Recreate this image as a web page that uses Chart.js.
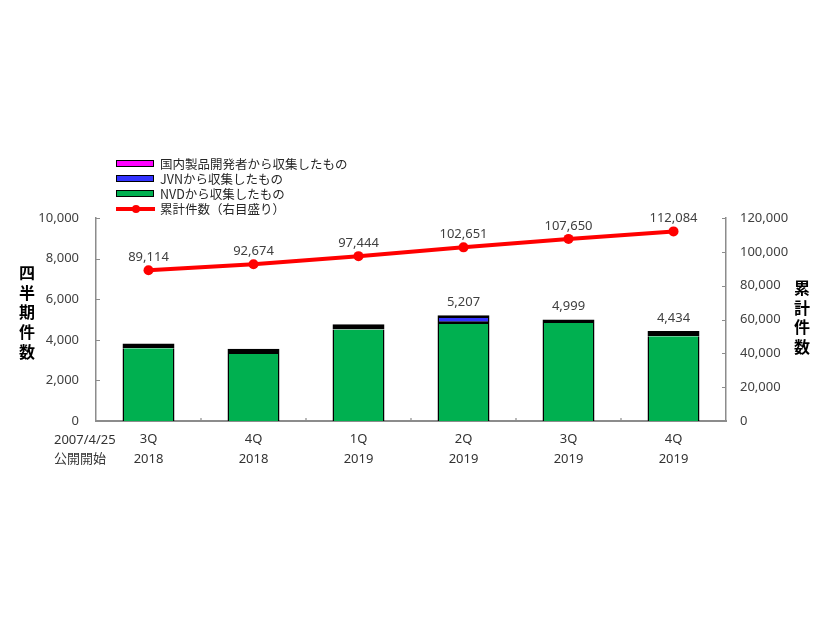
<!DOCTYPE html>
<html>
<head>
<meta charset="utf-8">
<script src="https://cdn.jsdelivr.net/npm/chart.js@4.4.1/dist/chart.umd.min.js"></script>
<style>
  html, body { margin: 0; padding: 0; background: #ffffff; }
  #wrap { position: relative; width: 826px; height: 620px; overflow: hidden; }
  #chart { position: absolute; left: 0; top: 0; }
  .legend { position: absolute; left: 116px; top: 156px; font-family: 'Noto Sans CJK JP', sans-serif; font-size: 12.5px; color: #262626; }
  .legend .row { height: 15px; line-height: 15px; display: flex; align-items: center; white-space: nowrap; }
  .legend .box { width: 36px; height: 5px; border: 1.5px solid #000; margin-right: 6px; box-sizing: content-box; }
  .legend .ln { width: 39px; height: 4px; background: #ff0000; margin-right: 5px; position: relative; }
  .legend .ln::after { content: ''; position: absolute; left: 15.5px; top: -2px; width: 8px; height: 8px; border-radius: 50%; background: #ff0000; }
  .vtitle { position: absolute; font-family: 'Noto Sans CJK JP', sans-serif; font-weight: bold; font-size: 16px; color: #000; width: 20px; text-align: center; line-height: 19.7px; }
  .start { position: absolute; left: 54px; top: 430px; font-family: 'Noto Sans', 'Noto Sans CJK JP', sans-serif; font-size: 13px; color: #333; line-height: 19.4px; white-space: nowrap; }
</style>
</head>
<body>
<div id="wrap">
  <canvas id="chart" width="826" height="620"></canvas>
  <div class="legend">
    <div class="row"><span class="box" style="background:#ff00ff"></span><span id="lg0"></span></div>
    <div class="row"><span class="box" style="background:#3333ff"></span><span id="lg1"></span></div>
    <div class="row"><span class="box" style="background:#00b050"></span><span id="lg2"></span></div>
    <div class="row"><span class="ln"></span><span id="lg3"></span></div>
  </div>
  <div class="vtitle" id="ytitle" style="left:17px; top:263px;"></div>
  <div class="vtitle" id="y1title" style="left:792px; top:278px;"></div>
  <div class="start" id="startLabel"></div>
</div>
<script>
// ---- data ----
const categories = [["3Q","2018"],["4Q","2018"],["1Q","2019"],["2Q","2019"],["3Q","2019"],["4Q","2019"]];
const domestic = [4, 3, 2, 3, 2, 2];
const jvn = [235, 255, 255, 420, 175, 255];
const nvd = [3581, 3302, 4513, 4784, 4822, 4177];
const cumulative = [89114, 92674, 97444, 102651, 107650, 112084];
const showBarTotal = [false, false, false, true, true, true];
const seriesNames = ["国内製品開発者から収集したもの", "JVNから収集したもの", "NVDから収集したもの", "累計件数（右目盛り）"];
const leftTicks = [0, 2000, 4000, 6000, 8000, 10000];
const rightTicks = [0, 20000, 40000, 60000, 80000, 100000, 120000];
const leftTitle = "四半期件数";
const rightTitle = "累計件数";
const startLabel = ["2007/4/25", "公開開始"];

// ---- html text ----
seriesNames.forEach((n, i) => document.getElementById('lg' + i).textContent = n);
document.getElementById('ytitle').innerHTML = leftTitle.split('').map(c => '<div>' + c + '</div>').join('');
document.getElementById('y1title').innerHTML = rightTitle.split('').map(c => '<div>' + c + '</div>').join('');
document.getElementById('startLabel').innerHTML = startLabel.join('<br>');

const fmt = v => Number(v).toLocaleString('en-US');
const FONT = "'Noto Sans', 'Noto Sans CJK JP', sans-serif";
const AXIS_COLOR = '#8c8c8c';

const inwardTicks = {
  id: 'inwardTicks',
  afterDatasetsDraw(chart) {
    const ctx = chart.ctx;
    const area = chart.chartArea;
    const y = chart.scales.y, y1 = chart.scales.y1, x = chart.scales.x;
    ctx.save();
    ctx.strokeStyle = AXIS_COLOR;
    ctx.lineWidth = 1.2;
    ctx.beginPath();
    leftTicks.forEach(v => { const p = Math.round(y.getPixelForValue(v)) + 0.5; ctx.moveTo(area.left, p); ctx.lineTo(area.left + 4, p); });
    rightTicks.forEach(v => { const p = Math.round(y1.getPixelForValue(v)) + 0.5; ctx.moveTo(area.right, p); ctx.lineTo(area.right - 4, p); });
    for (let i = 1; i < categories.length; i++) {
      const p = (x.getPixelForValue(i - 1) + x.getPixelForValue(i)) / 2;
      ctx.moveTo(p, area.bottom); ctx.lineTo(p, area.bottom - 3);
    }
    ctx.stroke();

    // value labels
    ctx.fillStyle = '#404040';
    ctx.font = '13px ' + FONT;
    ctx.textAlign = 'center';
    ctx.textBaseline = 'middle';
    const lineMeta = chart.getDatasetMeta(3);
    lineMeta.data.forEach((pt, i) => {
      ctx.fillText(fmt(cumulative[i]), pt.x, pt.y - 13);
    });
    const topMeta = chart.getDatasetMeta(0);
    topMeta.data.forEach((bar, i) => {
      if (!showBarTotal[i]) return;
      const total = domestic[i] + jvn[i] + nvd[i];
      ctx.fillText(fmt(total), bar.x, y.getPixelForValue(total) - 13);
    });
    ctx.restore();
  }
};

new Chart(document.getElementById('chart'), {
  data: {
    labels: categories,
    datasets: [
      { type: 'bar', label: seriesNames[0], data: domestic, backgroundColor: '#ff00ff', borderColor: '#000', borderWidth: { top: 2, left: 1.5, right: 1.5, bottom: 0 }, borderSkipped: false, stack: 's', order: 3, yAxisID: 'y' },
      { type: 'bar', label: seriesNames[1], data: jvn, backgroundColor: '#3333ff', borderColor: '#000', borderWidth: { top: 2.6, left: 1.5, right: 1.5, bottom: 2.6 }, borderSkipped: false, stack: 's', order: 2, yAxisID: 'y' },
      { type: 'bar', label: seriesNames[2], data: nvd, backgroundColor: '#00b050', borderColor: '#000', borderWidth: { top: 0, left: 1.5, right: 1.5, bottom: 0 }, borderSkipped: false, stack: 's', order: 1, yAxisID: 'y' },
      { type: 'line', label: seriesNames[3], data: cumulative, borderColor: '#ff0000', backgroundColor: '#ff0000', borderWidth: 4, pointRadius: 5, pointBackgroundColor: '#ff0000', pointBorderWidth: 0, tension: 0, order: 0, yAxisID: 'y1' }
    ]
  },
  options: {
    responsive: false,
    animation: false,
    events: [],
    layout: { padding: { left: 0, right: 0, top: 218, bottom: 139 } },
    plugins: { legend: { display: false }, tooltip: { enabled: false } },
    datasets: { bar: { barPercentage: 0.495, categoryPercentage: 1.0 } },
    scales: {
      x: {
        stacked: true,
        offset: true,
        grid: { display: false, drawTicks: false },
        border: { display: true, color: AXIS_COLOR, width: 2 },
        ticks: { color: '#333', font: { family: FONT, size: 13, lineHeight: 1.49 }, padding: 9, maxRotation: 0, autoSkip: false },
        afterFit(s) { s.height = 60; }
      },
      y: {
        position: 'left',
        stacked: true,
        min: 0, max: 10000,
        afterBuildTicks(s) { s.ticks = leftTicks.map(v => ({ value: v })); },
        grid: { display: false, drawTicks: false },
        border: { display: true, color: AXIS_COLOR, width: 1.5 },
        ticks: { color: '#404040', font: { family: FONT, size: 13 }, padding: 17, callback: v => fmt(v) },
        afterFit(s) { s.width = 96; }
      },
      y1: {
        position: 'right',
        stacked: false,
        min: 0, max: 120000,
        afterBuildTicks(s) { s.ticks = rightTicks.map(v => ({ value: v })); },
        grid: { display: false, drawTicks: false },
        border: { display: true, color: AXIS_COLOR, width: 1.5 },
        ticks: { color: '#404040', font: { family: FONT, size: 13 }, padding: 14, callback: v => fmt(v) },
        afterFit(s) { s.width = 100; }
      }
    }
  },
  plugins: [inwardTicks]
});
</script>
</body>
</html>
